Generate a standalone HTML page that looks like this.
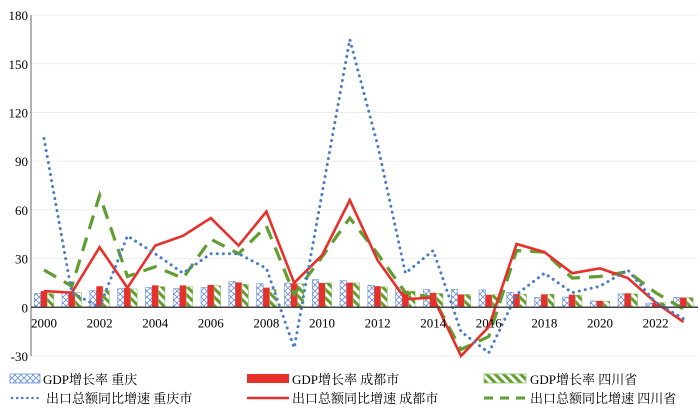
<!DOCTYPE html>
<html><head><meta charset="utf-8">
<style>
body{margin:0;background:#fff;}
svg text{font-family:"Liberation Serif","Noto Serif CJK SC",serif;font-size:13px;fill:#000;}
</style></head>
<body>
<svg id="chart" width="700" height="407" xmlns="http://www.w3.org/2000/svg">
<defs>
<pattern id="pcq" patternUnits="userSpaceOnUse" width="6" height="6">
<rect width="6" height="6" fill="#fff"/>
<path d="M0,0L6,6M6,0L0,6" stroke="#6a8fd6" stroke-width="0.8"/>
</pattern>
<pattern id="psc" patternUnits="userSpaceOnUse" width="6" height="6" patternTransform="rotate(-45)">
<rect width="6" height="6" fill="#fff"/>
<rect width="3" height="6" fill="#5f9e2f"/>
</pattern>
</defs>
<g id="grid"></g>
<g id="bars"></g>
<g id="lines"></g>
<g id="axes"></g>
<g id="legend">
<rect x="10" y="374" width="30" height="9" fill="url(#pcq)" stroke="#6a8fd6" stroke-width="0.8"/>
<text x="43" y="384">GDP增长率 重庆</text>
<rect x="247" y="374" width="42" height="9" fill="#e8302b"/>
<text x="292" y="384">GDP增长率 成都市</text>
<rect x="484" y="374" width="42" height="9" fill="url(#psc)" stroke="#8fc060" stroke-width="0.8"/>
<text x="530" y="384">GDP增长率 四川省</text>
<line x1="12" y1="398" x2="42" y2="398" stroke="#4a7cc8" stroke-width="2.5" stroke-dasharray="0.1 5" stroke-linecap="round"/>
<text x="46" y="403">出口总额同比增速 重庆市</text>
<line x1="247" y1="398" x2="289" y2="398" stroke="#e8302b" stroke-width="2.5"/>
<text x="292" y="403">出口总额同比增速 成都市</text>
<line x1="484" y1="398" x2="526" y2="398" stroke="#5f9e2f" stroke-width="3" stroke-dasharray="9 7"/>
<text x="530" y="403">出口总额同比增速 四川省</text>
</g>
</svg>
<script>
const years=[2000,2001,2002,2003,2004,2005,2006,2007,2008,2009,2010,2011,2012,2013,2014,2015,2016,2017,2018,2019,2020,2021,2022,2023];
const yTicks=[-30,0,30,60,90,120,150,180];
const xLabels=[2000,2002,2004,2006,2008,2010,2012,2014,2016,2018,2020,2022];
const gdpChongqing=[8.5,9,10.3,11.5,12.2,11.5,12.2,15.9,14.5,14.9,17.1,16.4,13.6,12.3,10.9,11,10.7,9.3,6,6.3,3.9,8.3,2.6,6.1];
const gdpChengdu=[10,9.5,13,12,13.5,13.5,13.8,15.3,12.1,14.7,15,15.2,13,10.2,8.9,7.9,7.7,8.1,8,7.8,4,8.6,2.8,6];
const gdpSichuan=[8.5,9,10.3,11.3,12.7,12.6,13.3,14.2,11,14.5,15.1,15,12.6,10,8.5,7.9,7.7,8.1,8,7.5,3.8,8.2,2.9,6];
const expChongqing=[104,9,0,44,33,21,33,33,24,-25,70,165,100,21,35,-15,-28,8,21,9,13,23,3,-7];
const expChengdu=[10,9,37,12,38,44,55,38,59,15,32,66,29,5,6,-30,-12,39,34,21,24,18,3,-9];
const expSichuan=[23,13,69,19,25,18,42,33,50,8,31,55,33,9,6,-26,-18,35,34,18,19,22,9,-1];

const NS='http://www.w3.org/2000/svg';
const x0=44,dx=27.8,yZero=307.3,ppu=48.7/30;
const X=i=>x0+i*dx;
const Y=v=>yZero-v*ppu;
function mk(tag,attrs,parent){const e=document.createElementNS(NS,tag);for(const k in attrs)e.setAttribute(k,attrs[k]);parent.appendChild(e);return e;}
const grid=document.getElementById('grid'),bars=document.getElementById('bars'),lines=document.getElementById('lines'),axes=document.getElementById('axes');
yTicks.forEach(t=>{
  if(t!==0){const g=mk('line',{x1:31,x2:698,y1:Y(t),y2:Y(t),stroke:'#eeeeee','stroke-width':1},grid);
  
  }
  const tx=mk('text',{x:28,y:Y(t)+5,'text-anchor':'end'},axes);tx.textContent=t;
  
  
});
const yax=mk('line',{x1:31,x2:31,y1:Y(180),y2:Y(-30),stroke:'#666','stroke-width':1},axes);


const xax=mk('line',{x1:31,x2:698,y1:yZero,y2:yZero,stroke:'#444','stroke-width':1.5},axes);


xLabels.forEach(l=>{
  const i=years.indexOf(l);
  const tx=mk('text',{x:X(i),y:yZero+20,'text-anchor':'middle'},axes);tx.textContent=l;
  
  
});
const bw=6.5;
const series=[[gdpChongqing,-bw,'url(#pcq)','#6a8fd6','chongqing'],[gdpChengdu,0,'#e8302b','none','chengdu'],[gdpSichuan,bw,'url(#psc)','#8fc060','sichuan']];
series.forEach(s=>{
  s[0].forEach((v,i)=>{
    const cx=X(i)+s[1];
    const r=mk('rect',{x:cx-bw/2,y:Math.min(Y(v),yZero),width:bw,height:Math.abs(Y(v)-yZero),fill:s[2],stroke:s[3],'stroke-width':0.6},bars);
    
    
  });
});
function line(data,attrs,name){
  const p=mk('polyline',Object.assign({points:data.map((v,i)=>X(i)+','+Y(v)).join(' '),fill:'none'},attrs),lines);
  
  
}
line(expSichuan,{stroke:'#5f9e2f','stroke-width':3.2,'stroke-dasharray':'14 9'},'line-export-sichuan');
line(expChengdu,{stroke:'#e8302b','stroke-width':2.6,'stroke-linejoin':'miter'},'line-export-chengdu');
line(expChongqing,{stroke:'#4a7cc8','stroke-width':3,'stroke-dasharray':'0.1 6','stroke-linecap':'round'},'line-export-chongqing');
</script>
</body></html>
